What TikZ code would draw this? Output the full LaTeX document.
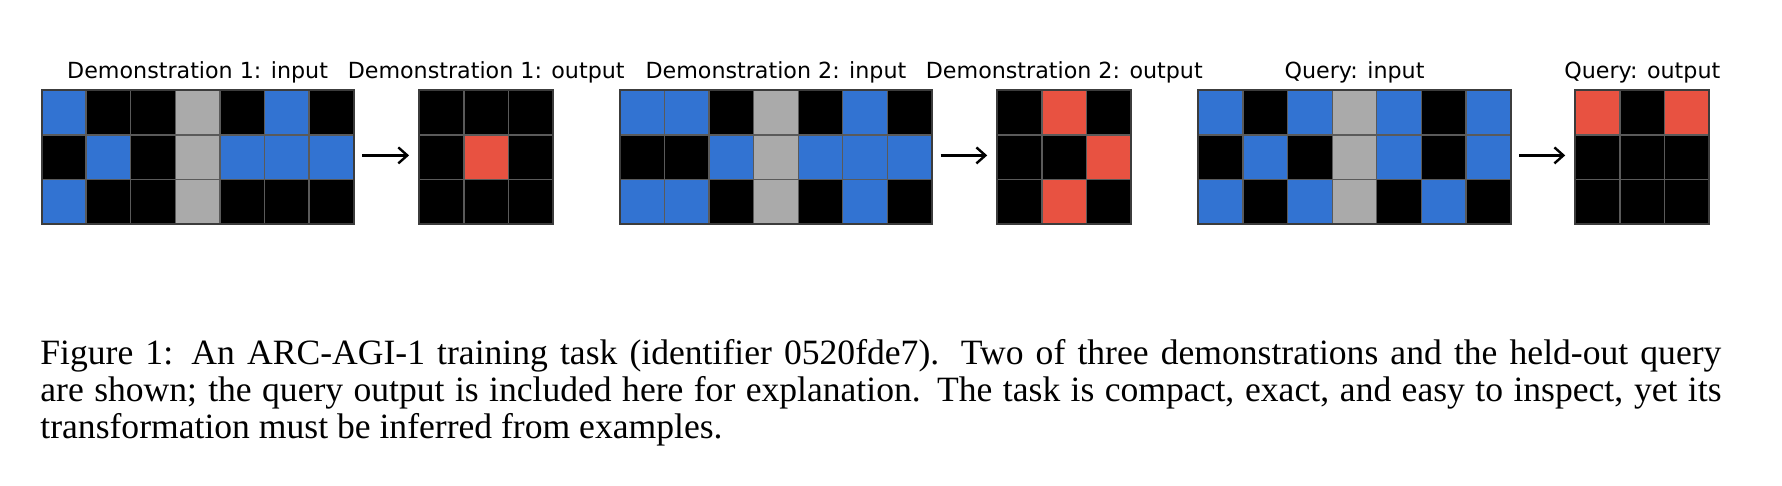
\documentclass[tikz,border=0pt]{standalone}
\usepackage{fontspec}
\setmainfont{Liberation Serif}
\newfontfamily\titlefont{DejaVu Sans}
\usetikzlibrary{arrows.meta,calc}
\definecolor{arcB}{HTML}{3273D2}
\definecolor{arcK}{HTML}{000000}
\definecolor{arcG}{HTML}{AAAAAA}
\definecolor{arcR}{HTML}{E85241}
\definecolor{cellline}{HTML}{5A5A5A}
\definecolor{framecol}{HTML}{3C3C3C}
\tikzset{
  cellsep/.style={draw=cellline, line width=0.65pt},
  gridframe/.style={draw=framecol, line width=1pt, minimum height=66.9pt, inner sep=0pt, outer sep=0pt},
  gtitle/.style={font=\titlefont\fontsize{11.1pt}{13pt}\selectfont, anchor=base, inner sep=0pt},
  arr/.style={line width=1.2pt, -{Straight Barb[length=4.5pt,width=8pt]}, shorten <=4.3pt, shorten >=5.1pt},
  captext/.style={font=\fontsize{17.8pt}{18.5pt}\selectfont, anchor=base west, inner sep=0pt},
}
% #1 name, #2 x0 (px), #3 ncols, #4 ncols-1, #5 rows
\newcommand{\arcgrid}[5]{%
  \foreach \row [count=\r] in {#5} {
    \foreach \cc [count=\k] in \row {
      \fill[fill=arc\cc] ({#2+(\k-1)*44.6},{90.5+(\r-1)*44.6}) rectangle ++(44.6,44.6);
    }
  }
  \foreach \k in {1,...,#4} \draw[cellsep] ({#2+\k*44.6},90.5) -- ++(0,133.8);
  \foreach \r in {1,2} \draw[cellsep] (#2,{90.5+\r*44.6}) -- ++({#3*44.6},0);
  \node[gridframe, minimum width={#3*22.3pt}, anchor=north west] (#1) at (#2,90.5) {};
}
\begin{document}
\begin{tikzpicture}[x=0.5pt,y=-0.5pt]
\fill[white] (0,0) rectangle (1782,486);
\useasboundingbox (0,0) rectangle (1782,486);

\arcgrid{g1}{41.5}{7}{6}{{B,K,K,G,K,B,K},{K,B,K,G,B,B,B},{B,K,K,G,K,K,K}}
\arcgrid{o1}{419.3}{3}{2}{{K,K,K},{K,R,K},{K,K,K}}
\arcgrid{g2}{619.8}{7}{6}{{B,B,K,G,K,B,K},{K,K,B,G,B,B,B},{B,B,K,G,K,B,K}}
\arcgrid{o2}{997.4}{3}{2}{{K,R,K},{K,K,R},{K,R,K}}
\arcgrid{g3}{1198.4}{7}{6}{{B,K,B,G,B,K,B},{K,B,K,G,B,K,B},{B,K,B,G,K,B,K}}
\arcgrid{o3}{1575.4}{3}{2}{{R,K,R},{K,K,K},{K,K,K}}

\node[gtitle] (t1) at ([yshift=5.75pt]g1.north) {Demonstration 1: input};
\node[gtitle] (t2) at ([yshift=5.75pt]o1.north) {Demonstration 1: output};
\node[gtitle] (t3) at ([yshift=5.75pt]g2.north) {Demonstration 2: input};
\node[gtitle] (t4) at ([yshift=5.75pt]o2.north) {Demonstration 2: output};
\node[gtitle] (t5) at ([yshift=5.75pt]g3.north) {Query: input};
\node[gtitle] (t6) at ([yshift=5.75pt]o3.north) {Query: output};

\draw[arr] ([yshift=1pt]g1.east) -- ([yshift=1pt]o1.west);
\draw[arr] ([yshift=1pt]g2.east) -- ([yshift=1pt]o2.west);
\draw[arr] ([yshift=1pt]g3.east) -- ([yshift=1pt]o3.west);

\node[captext] (c1) at (40,364) {\makebox[840.5pt][s]{Figure 1: An ARC-AGI-1 training task (identifier 0520fde7). Two of three demonstrations and the held-out query}};
\node[captext] (c2) at (40,401) {\makebox[840.5pt][s]{are shown; the query output is included here for explanation. The task is compact, exact, and easy to inspect, yet its}};
\node[captext] (c3) at (40,438) {transformation must be inferred from examples.};
\end{tikzpicture}
\end{document}
